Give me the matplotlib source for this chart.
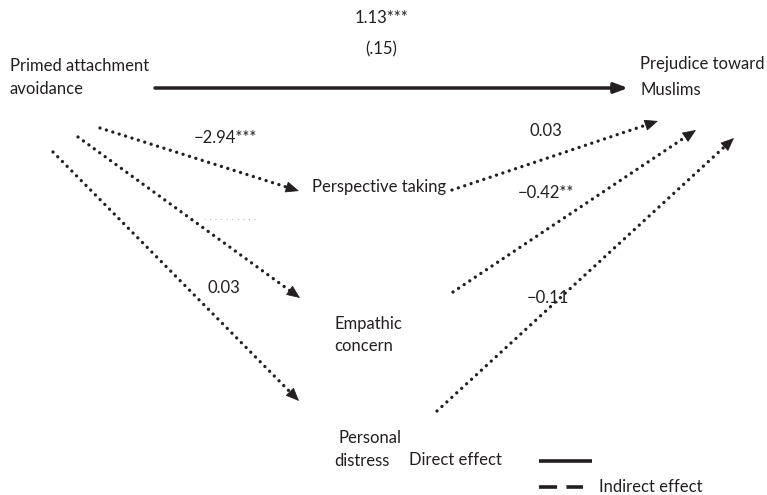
import matplotlib
matplotlib.use("Agg")
import matplotlib.pyplot as plt
import numpy as np

plt.rcParams['font.family'] = ['Lato', 'DejaVu Sans']

# ---- data ----
node_labels = ["Primed attachment\navoidance", "Prejudice toward\nMuslims",
               "Perspective taking", "Empathic\nconcern", "Personal\ndistress"]
direct_coef = "1.13***"
direct_se = "(.15)"
a_paths = ["\u22122.94***", "", "0.03"]          # avoidance -> mediators
b_paths = ["0.03", "\u22120.42**", "\u22120.11"]  # mediators -> prejudice
legend_labels = ["Direct effect", "Indirect effect"]

# ---- layout (pixel coordinates, y down) ----
W, H = 767, 495
fig = plt.figure(figsize=(W / 100, H / 100), dpi=100)
ax = fig.add_axes([0, 0, 1, 1])
ax.set_xlim(0, W)
ax.set_ylim(H, 0)
ax.axis('off')

col = '#231f20'
fs = 12

def text(x, y, s, ha='left', va='center', **kw):
    ax.text(x, y, s, ha=ha, va=va, fontsize=fs, color=col, **kw)

def node(x, ys, label):
    for y, line in zip(ys, label.split('\n')):
        text(x, y, line)

def dotted_arrow(p0, p1, head=True):
    x0, y0 = p0
    x1, y1 = p1
    d = np.array([x1 - x0, y1 - y0], float)
    d /= np.hypot(*d)
    end = np.array([x1, y1]) - d * (9 if head else 0)
    ax.plot([x0, end[0]], [y0, end[1]], color=col, lw=2.4,
            linestyle=(0, (0.01, 2.0)), dash_capstyle='round', solid_capstyle='round')
    if head:
        back = np.array([x1, y1]) - d * 2
        ax.annotate('', xy=(x1, y1), xytext=tuple(back),
                    arrowprops=dict(arrowstyle='-|>,head_length=0.85,head_width=0.36',
                                    color=col, lw=0.6, shrinkA=0, shrinkB=0))

# nodes
node(10, [66, 89], node_labels[0])
node(640, [64, 90], node_labels[1])
node(312, [187], node_labels[2])
node(334, [324, 346], node_labels[3])
node(338, [438, 461], node_labels[4].split('\n')[0])
node(334, [461], node_labels[4].split('\n')[1])

# direct path
text(381, 18, direct_coef, ha='center')
text(381, 49, direct_se, ha='center')
ax.annotate('', xy=(628, 88), xytext=(155, 88),
            arrowprops=dict(arrowstyle='-|>,head_length=0.8,head_width=0.3',
                            color=col, lw=2.5, shrinkA=0, shrinkB=0))

# a paths
a_start = [(100, 128), (78, 137), (53, 152)]
a_end = [(299, 191), (300, 298), (299, 401)]
a_lab = [(225, 138), (230, 219), (224, 288)]
for s, e, lab, pos in zip(a_start, a_end, a_paths, a_lab):
    dotted_arrow(s, e)
    if lab:
        text(pos[0], pos[1], lab, ha='center')
# faint residual mark
ax.plot([204, 256], [219, 219], color='#bbbbbb', lw=0.8, linestyle=(0, (1, 4)))

# b paths
b_start = [(452, 190), (453, 292), (437, 411)]
b_end = [(658, 121), (696, 130), (734, 138)]
b_lab = [(546, 131), (546, 193), (548, 298)]
for s, e, lab, pos in zip(b_start, b_end, b_paths, b_lab):
    dotted_arrow(s, e)
    text(pos[0], pos[1], lab, ha='center')

# legend
text(409, 460, legend_labels[0])
ax.plot([539, 592], [461, 461], color=col, lw=2.6, solid_capstyle='butt')
ax.plot([539, 583], [487, 487], color=col, lw=2.6, linestyle=(0, (5, 2.6)), dash_capstyle='butt')
text(599, 487, legend_labels[1])

fig.savefig('out.png', dpi=100)
